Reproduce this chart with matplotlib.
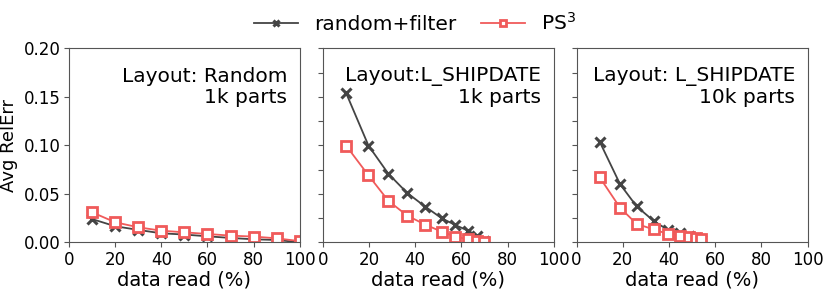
import numpy as np
import matplotlib
matplotlib.use('Agg')
import matplotlib.pyplot as plt

# panel 1: layout random, 1k parts
x_rand = [10, 20, 30, 40, 50, 60, 70, 80, 90, 100]
rf_rand = [0.024, 0.0166, 0.0128, 0.0093, 0.008, 0.0062, 0.0045, 0.0031, 0.0024, 0.0]
ps3_rand = [0.031, 0.0207, 0.0155, 0.012, 0.0103, 0.0086, 0.0069, 0.0059, 0.0041, 0.0012]

# panel 2: layout L_SHIPDATE, 1k parts
x_ship1k = [10.1, 19.8, 28.4, 36.5, 44.3, 51.5, 57.3, 62.8, 66.8, 69.6]
rf_ship1k = [0.154, 0.0997, 0.0707, 0.051, 0.0369, 0.0248, 0.0179, 0.0121, 0.007, 0.0015]
ps3_ship1k = [0.0997, 0.069, 0.0428, 0.0276, 0.0183, 0.011, 0.0059, 0.0031, 0.0017, 0.0007]

# panel 3: layout L_SHIPDATE, 10k parts
x_ship10k = [10, 18.8, 26.0, 33.3, 39.5, 44.6, 48.6, 51.8, 54.0]
rf_ship10k = [0.1037, 0.060, 0.037, 0.0222, 0.0127, 0.0093, 0.0065, 0.0041, 0.0024]
ps3_ship10k = [0.067, 0.0357, 0.0189, 0.0134, 0.0086, 0.0065, 0.0051, 0.0041, 0.0031]

titles = ['Layout: Random\n1k parts', 'Layout:L_SHIPDATE\n1k parts', 'Layout: L_SHIPDATE\n10k parts']
xs = [x_rand, x_ship1k, x_ship10k]
rfs = [rf_rand, rf_ship1k, rf_ship10k]
ps3s = [ps3_rand, ps3_ship1k, ps3_ship10k]

c_rf = '#444444'
c_ps3 = '#f05a5a'

fig, axes = plt.subplots(1, 3, figsize=(8.3, 2.93), dpi=100)
fig.subplots_adjust(left=0.083, right=0.973, bottom=0.173, top=0.835, wspace=0.099)

for i, ax in enumerate(axes):
    l1, = ax.plot(xs[i], rfs[i], color=c_rf, marker='x', markersize=7, mew=2.2, lw=1.3,
                  label='random+filter')
    l2, = ax.plot(xs[i], ps3s[i], color=c_ps3, marker='s', markersize=7, mew=2,
                  mfc='white', lw=1.3, label='PS$^3$')
    ax.set_xlim(0, 100)
    ax.set_ylim(0, 0.2)
    ax.set_xticks([0, 20, 40, 60, 80, 100])
    ax.tick_params(labelsize=12, color='#555555', pad=2.5)
    for s in ax.spines.values():
        s.set_color('#555555')
    ax.set_xlabel('data read (%)', fontsize=14, labelpad=1)
    ax.text(0.946, 0.905, titles[i], transform=ax.transAxes, ha='right', va='top',
            fontsize=14.5, linespacing=1.15)
    if i == 0:
        ax.set_yticks([0, 0.05, 0.1, 0.15, 0.2])
        ax.set_yticklabels(['0.00', '0.05', '0.10', '0.15', '0.20'])
        ax.set_ylabel('Avg RelErr', fontsize=13, labelpad=4)
    else:
        ax.set_yticks(np.arange(0, 0.21, 0.025))
        ax.set_yticklabels([])

fig.legend([l1, l2], ['random+filter', 'PS$^3$'], loc='upper center', ncol=2,
           bbox_to_anchor=(0.5, 1.02), frameon=False, fontsize=14.5,
           handlelength=2.2, columnspacing=1.2, markerscale=0.7)

plt.savefig('out.png')
